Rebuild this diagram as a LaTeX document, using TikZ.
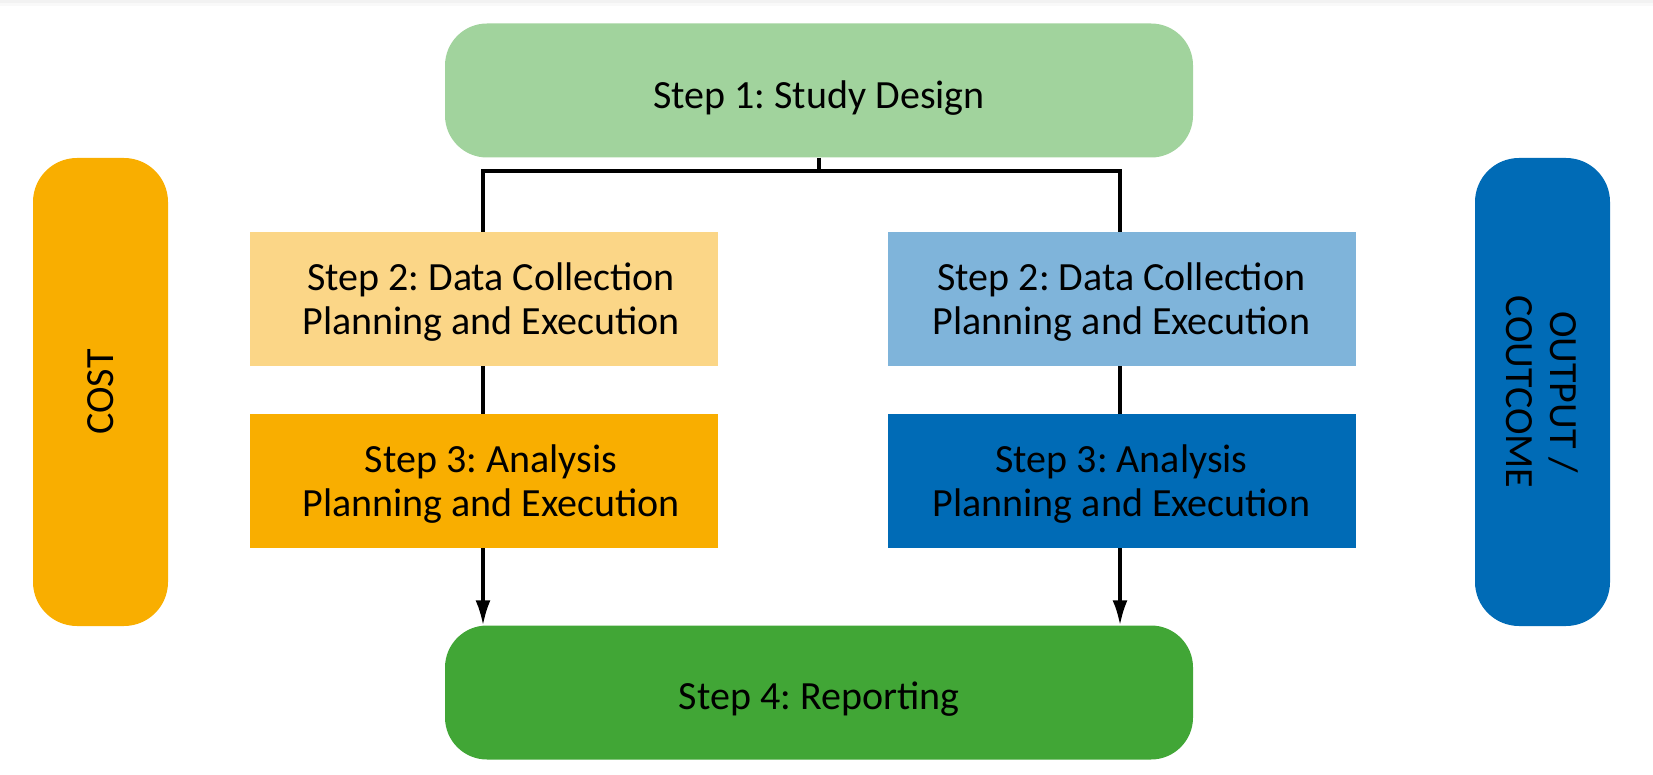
\documentclass[tikz,border=0pt]{standalone}
\usepackage{fontspec}
\setmainfont{Carlito}
\usetikzlibrary{arrows.meta}
\frenchspacing
\definecolor{lgreen}{HTML}{A1D39D}
\definecolor{dgreen}{HTML}{41A636}
\definecolor{orng}{HTML}{F9AE00}
\definecolor{lorng}{HTML}{FBD687}
\definecolor{lblue}{HTML}{7FB4DA}
\definecolor{dblue}{HTML}{006BB6}
\newcommand{\topstrut}[1]{\rule{0pt}{#1}}
\tikzset{
  base/.style={draw=none, align=center, font=\fontsize{40}{44}\selectfont\frenchspacing, text=black, inner sep=0pt},
  roundbox/.style={base, rounded corners=42pt, minimum width=748pt, minimum height=134pt},
  sidebox/.style={base, rounded corners=44pt, minimum width=468pt, minimum height=135pt},
  stepbox/.style={base, minimum width=468pt, minimum height=134pt},
  conn/.style={line width=3.2pt, draw=black},
  arr/.style={conn, -{Latex[length=25pt,width=15pt]}}
}
\begin{document}
\begin{tikzpicture}[x=1pt,y=-1pt]
\useasboundingbox (0,0) rectangle (1653,775);
\fill[gray!10] (0,0) rectangle (1653,3);
\fill[gray!5] (0,3) rectangle (1653,6);

\node[roundbox, fill=lgreen] (s1) at (819,90.5) {\topstrut{42pt}Step 1: Study Design};
\node[roundbox, fill=dgreen] (s4) at (819,692.5) {\topstrut{41pt}Step 4: Reporting};
\node[sidebox, fill=orng, rotate=90] (cost) at (100.5,392) {COST};
\node[sidebox, fill=dblue, rotate=-90] (out) at (1542.5,392) {OUTPUT /\\COUTCOME};

\node[stepbox, fill=lorng] (s2l) at (484,299) {\hspace*{14pt}\topstrut{33pt}Step 2: Data Collection\\\hspace*{14pt}Planning and Execution};
\node[stepbox, fill=orng] (s3l) at (484,481) {\hspace*{14pt}\topstrut{33pt}Step 3: Analysis\\\hspace*{14pt}Planning and Execution};
\node[stepbox, fill=lblue] (s2r) at (1121.5,299) {\topstrut{33pt}Step 2: Data Collection\\Planning and Execution};
\node[stepbox, fill=dblue] (s3r) at (1121.5,481) {\topstrut{33pt}Step 3: Analysis\\Planning and Execution};

\coordinate (jn) at (819,171);
\coordinate (jl) at (483,171);
\coordinate (jr) at (1120,171);
\draw[conn] (s1.south) -- (jn);
\draw[conn, line join=miter] (s2l.north -| jl) -- (jl) -- (jr) -- (s2r.north -| jr);
\draw[conn] (s2l.south -| jl) -- (s3l.north -| jl);
\draw[conn] (s2r.south -| jr) -- (s3r.north -| jr);
\draw[arr] (s3l.south -| jl) -- (s4.north -| jl);
\draw[arr] (s3r.south -| jr) -- (s4.north -| jr);
\end{tikzpicture}
\end{document}
